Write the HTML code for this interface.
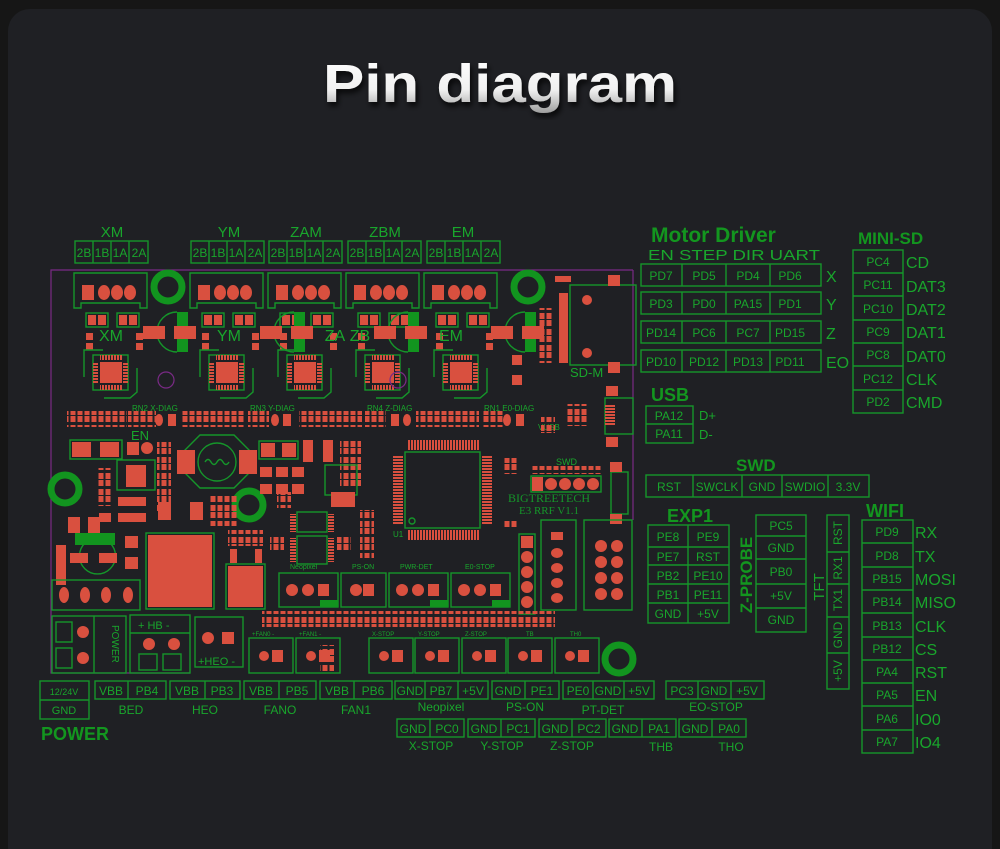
<!DOCTYPE html>
<html><head><meta charset="utf-8"><style>
html,body{margin:0;padding:0;background:#161616;}
svg{display:block;}
.g{stroke:#15962a;stroke-width:1.4;fill:none;}
.t{fill:#19a62c;font-family:"Liberation Sans",sans-serif;}
.b{fill:#13961f;font-family:"Liberation Sans",sans-serif;font-weight:bold;}
.c{font-size:12px;text-anchor:middle;}
.r{fill:#d9503f;}
.p{stroke:#7a2a86;stroke-width:1.2;fill:none;}
</style></head><body>
<svg width="1000" height="849" viewBox="0 0 1000 849" xmlns="http://www.w3.org/2000/svg">
<defs>
<linearGradient id="tg" x1="0" y1="0" x2="0" y2="1"><stop offset="0" stop-color="#ffffff"/><stop offset="0.6" stop-color="#f0f0f0"/><stop offset="1" stop-color="#9a9a9a"/></linearGradient>
<filter id="sh"><feDropShadow dx="2" dy="4" stdDeviation="3" flood-color="#000" flood-opacity="0.8"/></filter>
<pattern id="res" width="7" height="16" patternUnits="userSpaceOnUse"><rect x="0.5" y="0" width="5" height="6" fill="#d9503f"/><rect x="0.5" y="9" width="5" height="6" fill="#d9503f"/></pattern>
<pattern id="pinh" width="3" height="10" patternUnits="userSpaceOnUse"><rect x="0" y="0" width="2" height="10" fill="#d9503f"/></pattern>
<pattern id="pinv" width="10" height="3" patternUnits="userSpaceOnUse"><rect x="0" y="0" width="10" height="2" fill="#d9503f"/></pattern>
</defs>
<rect width="1000" height="849" fill="#161616"/>
<rect x="8" y="9" width="984" height="860" rx="22" fill="#1f2024"/>
<text x="500" y="102" text-anchor="middle" font-family="Liberation Sans,sans-serif" font-weight="bold" font-size="54" fill="url(#tg)" filter="url(#sh)" textLength="354" lengthAdjust="spacingAndGlyphs">Pin diagram</text>

<!-- top motor labels -->
<g class="t" font-size="15" text-anchor="middle">
<text x="112" y="237">XM</text><text x="229" y="237">YM</text><text x="306" y="237">ZAM</text><text x="385" y="237">ZBM</text><text x="463" y="237">EM</text>
</g>
<g id="mb">
<rect class="g" x="75" y="241" width="73" height="22"/><line class="g" x1="93" y1="241" x2="93" y2="263"/><line class="g" x1="111" y1="241" x2="111" y2="263"/><line class="g" x1="129" y1="241" x2="129" y2="263"/>
<g class="t c" font-size="12"><text x="84" y="257">2B</text><text x="102" y="257">1B</text><text x="120" y="257">1A</text><text x="139" y="257">2A</text></g>
</g>
<use href="#mb" x="116"/><use href="#mb" x="194"/><use href="#mb" x="273"/><use href="#mb" x="352"/>

<!-- board outline -->
<polyline class="p" points="633,270 51,270 51,673 190,673"/>
<line class="p" x1="633" y1="270" x2="633" y2="520"/>

<!-- motor connectors -->
<g id="mc">
<path class="g" d="M74,273 H147 V308 H140 V303 H81 V308 H74 Z"/>
<rect class="r" x="82" y="285" width="12" height="15"/>
<ellipse class="r" cx="104" cy="292.5" rx="6" ry="7.5"/><ellipse class="r" cx="117" cy="292.5" rx="6" ry="7.5"/><ellipse class="r" cx="130" cy="292.5" rx="6" ry="7.5"/>
<rect class="g" x="86" y="313" width="22" height="14"/><rect class="r" x="88" y="315" width="8" height="10"/><rect class="r" x="98" y="315" width="8" height="10"/>
<rect class="g" x="117" y="313" width="22" height="14"/><rect class="r" x="119" y="315" width="8" height="10"/><rect class="r" x="129" y="315" width="8" height="10"/>
<rect class="r" x="86" y="333" width="7" height="7"/><rect class="r" x="86" y="343" width="7" height="7"/>
<rect class="r" x="136" y="333" width="7" height="7"/><rect class="r" x="136" y="343" width="7" height="7"/>
<rect class="g" x="93" y="355" width="35" height="35"/>
<rect fill="url(#pinh)" x="100" y="355" width="22" height="5"/><rect fill="url(#pinh)" x="100" y="385" width="22" height="5"/>
<rect fill="url(#pinv)" x="93" y="362" width="5" height="22"/><rect fill="url(#pinv)" x="123" y="362" width="5" height="22"/>
<rect class="r" x="100" y="362" width="22" height="21"/>
<path class="g" d="M84,377 V350 H103 M137,368 V392 L130,398 H104"/>
</g>
<use href="#mc" x="116"/><use href="#mc" x="194"/><use href="#mc" x="272"/><use href="#mc" x="350"/>
<!-- override widths not needed -->
<g class="t" font-size="16" text-anchor="middle"><text x="111" y="341">XM</text><text x="229" y="341">YM</text><text x="335" y="341">ZA</text><text x="360" y="341">ZB</text><text x="451" y="341">EM</text></g>
<!-- caps -->
<g id="cap">
<path class="g" d="M177,312 A20,20 0 1 0 177,352"/>
<rect x="177" y="312" width="11" height="40" fill="#12941f"/>
<rect class="r" x="143" y="326" width="22" height="13"/><rect class="r" x="174" y="326" width="22" height="13"/>
</g>
<use href="#cap" x="117"/><use href="#cap" x="231"/><use href="#cap" x="348"/>
<!-- rings -->
<g fill="none" stroke="#12941f" stroke-width="7">
<circle cx="168" cy="287" r="14"/><circle cx="528" cy="287" r="14"/><circle cx="65" cy="489" r="14"/><circle cx="249" cy="505" r="14"/><circle cx="619" cy="659" r="14"/>
</g>
<circle class="p" cx="166" cy="380" r="8"/><circle class="p" cx="398" cy="380" r="8"/>

<!-- SD module -->
<rect class="g" x="570" y="285" width="66" height="80"/>
<rect class="r" x="559" y="293" width="9" height="70"/>
<rect class="r" x="608" y="275" width="12" height="11"/><rect class="r" x="608" y="362" width="12" height="11"/>
<circle class="r" cx="587" cy="300" r="5"/><circle class="r" cx="587" cy="353" r="5"/>
<text class="t" x="570" y="377" font-size="13">SD-M</text>
<rect fill="url(#res)" x="539" y="308" width="14" height="55"/>
<rect class="r" x="512" y="355" width="10" height="10"/><rect class="r" x="512" y="375" width="10" height="10"/>
<rect class="r" x="555" y="276" width="16" height="6"/>

<!-- resistor row -->
<rect fill="url(#res)" x="67" y="411" width="60" height="16"/><rect fill="url(#res)" x="128" y="411" width="28" height="16"/>
<rect fill="url(#res)" x="182" y="411" width="63" height="16"/><rect fill="url(#res)" x="248" y="411" width="21" height="16"/>
<rect fill="url(#res)" x="299" y="411" width="63" height="16"/><rect fill="url(#res)" x="365" y="411" width="21" height="16"/>
<rect fill="url(#res)" x="416" y="411" width="63" height="16"/><rect fill="url(#res)" x="482" y="411" width="21" height="16"/>
<g fill="#d9503f"><ellipse cx="159" cy="420" rx="4" ry="6"/><rect x="168" y="414" width="8" height="12"/><ellipse cx="275" cy="420" rx="4" ry="6"/><rect x="283" y="414" width="8" height="12"/><rect x="391" y="414" width="8" height="12"/><ellipse cx="407" cy="420" rx="4" ry="6"/><ellipse cx="507" cy="420" rx="4" ry="6"/><rect x="516" y="414" width="8" height="12"/></g>
<g class="t" font-size="8"><text x="132" y="411">RN2 X-DIAG</text><text x="250" y="411">RN3 Y-DIAG</text><text x="367" y="411">RN4 Z-DIAG</text><text x="484" y="411">RN1 E0-DIAG</text><text x="538" y="430">VUSB</text></g>
<text class="t" x="131" y="440" font-size="13">EN</text>

<!-- left components -->
<rect class="r" x="72" y="442" width="19" height="15"/><rect class="r" x="100" y="442" width="19" height="15"/><rect class="g" x="70" y="440" width="52" height="19"/>
<rect class="r" x="127" y="442" width="12" height="13"/><circle class="r" cx="147" cy="448" r="6"/>
<rect class="g" x="117" y="460" width="38" height="30"/><rect class="r" x="126" y="465" width="20" height="22"/>
<rect fill="url(#res)" x="157" y="442" width="14" height="70"/><rect fill="url(#res)" x="97" y="468" width="14" height="38"/>
<rect class="r" x="118" y="497" width="28" height="9"/><rect class="r" x="118" y="513" width="28" height="9"/>
<rect class="r" x="99" y="513" width="12" height="9"/>
<rect class="r" x="68" y="517" width="12" height="16"/><rect class="r" x="88" y="517" width="12" height="16"/>
<path class="g" d="M85,543 A18,18 0 1 0 110,543"/><rect x="75" y="533" width="40" height="12" fill="#12941f"/>
<rect class="r" x="70" y="553" width="18" height="10"/><rect class="r" x="99" y="553" width="18" height="10"/>
<rect class="r" x="125" y="536" width="13" height="12"/><rect class="r" x="125" y="557" width="13" height="12"/>
<rect class="r" x="56" y="545" width="10" height="40"/>
<rect class="g" x="52" y="580" width="88" height="30"/>
<g fill="#d9503f"><ellipse cx="64" cy="595" rx="5" ry="8"/><ellipse cx="85" cy="595" rx="5" ry="8"/><ellipse cx="106" cy="595" rx="5" ry="8"/><ellipse cx="128" cy="595" rx="5" ry="8"/></g>
<!-- inductor -->
<polygon class="g" points="200,435 234,435 252,453 252,470 234,488 200,488 182,470 182,453"/>
<circle class="g" cx="217" cy="462" r="19"/><path class="g" d="M205,462 q3,-5 6,0 q3,5 6,0 q3,-5 6,0 q3,5 6,0"/>
<rect class="r" x="177" y="450" width="18" height="24"/><rect class="r" x="239" y="450" width="18" height="24"/>
<!-- misc middle -->
<rect class="r" x="261" y="443" width="14" height="14"/><rect class="r" x="282" y="443" width="14" height="14"/><rect class="g" x="259" y="441" width="39" height="18"/>
<rect class="r" x="303" y="440" width="10" height="22"/><rect class="r" x="323" y="440" width="10" height="22"/>
<rect fill="url(#res)" x="340" y="440" width="21" height="48"/>
<rect class="r" x="260" y="467" width="12" height="10"/><rect class="r" x="276" y="467" width="12" height="10"/><rect class="r" x="292" y="467" width="12" height="10"/>
<rect class="r" x="260" y="484" width="12" height="10"/><rect class="r" x="276" y="484" width="12" height="10"/><rect class="r" x="292" y="484" width="12" height="10"/>
<rect class="g" x="325" y="465" width="32" height="30"/>
<rect class="r" x="331" y="492" width="24" height="15"/>
<rect fill="url(#res)" x="210" y="496" width="28" height="30"/><rect fill="url(#res)" x="277" y="492" width="14" height="16"/>
<rect class="r" x="158" y="502" width="13" height="18"/><rect class="r" x="190" y="502" width="13" height="18"/>
<rect class="r" x="148" y="535" width="64" height="72"/><rect class="g" x="146" y="533" width="68" height="76"/>
<rect class="r" x="228" y="566" width="35" height="41"/><rect class="g" x="226" y="564" width="39" height="45"/>
<rect class="r" x="230" y="549" width="7" height="14"/><rect class="r" x="255" y="549" width="7" height="14"/>
<rect fill="url(#res)" x="228" y="530" width="35" height="16"/>
<rect class="g" x="297" y="512" width="30" height="20"/><rect class="g" x="297" y="536" width="30" height="28"/>
<rect fill="url(#pinv)" x="290" y="514" width="6" height="18"/><rect fill="url(#pinv)" x="328" y="514" width="6" height="18"/>
<rect fill="url(#pinv)" x="290" y="538" width="6" height="24"/><rect fill="url(#pinv)" x="328" y="538" width="6" height="24"/>
<rect fill="url(#res)" x="270" y="537" width="14" height="16"/><rect fill="url(#res)" x="337" y="535" width="14" height="16"/>
<rect fill="url(#res)" x="360" y="510" width="14" height="48"/>
<!-- MCU -->
<rect class="g" x="405" y="452" width="75" height="76"/>
<rect fill="url(#pinh)" x="408" y="440" width="72" height="10"/><rect fill="url(#pinh)" x="408" y="530" width="72" height="10"/>
<rect fill="url(#pinv)" x="393" y="455" width="10" height="70"/><rect fill="url(#pinv)" x="482" y="455" width="10" height="70"/>
<circle class="g" cx="412" cy="521" r="3"/>
<text class="t" x="393" y="537" font-size="8">U1</text>
<rect fill="url(#res)" x="503" y="458" width="14" height="16"/><rect fill="url(#res)" x="503" y="520" width="14" height="8"/>
<!-- SWD header on board -->
<rect fill="url(#res)" x="532" y="466" width="70" height="8"/>
<text class="t" x="556" y="465" font-size="9">SWD</text>
<g fill="#d9503f"><rect x="532" y="477" width="11" height="14"/><circle cx="551" cy="484" r="6"/><circle cx="565" cy="484" r="6"/><circle cx="579" cy="484" r="6"/><circle cx="593" cy="484" r="6"/></g>
<rect class="g" x="531" y="476" width="70" height="16"/>
<rect class="g" x="611" y="472" width="17" height="42"/><rect class="r" x="610" y="462" width="12" height="10"/><rect class="r" x="610" y="514" width="12" height="10"/>
<text font-family="Liberation Serif,serif" fill="#15962a" x="508" y="502" font-size="12">BIGTREETECH</text>
<text font-family="Liberation Serif,serif" fill="#15962a" x="519" y="514" font-size="11">E3 RRF V1.1</text>
<!-- USB on board -->
<rect class="g" x="605" y="398" width="28" height="36"/><rect fill="url(#pinv)" x="605" y="405" width="10" height="20"/>
<rect class="r" x="606" y="386" width="12" height="10"/><rect class="r" x="606" y="437" width="12" height="10"/>
<rect fill="url(#res)" x="567" y="404" width="21" height="22"/><rect fill="url(#res)" x="541" y="417" width="14" height="16"/>
<!-- probe and exp connectors -->
<rect class="g" x="519" y="534" width="16" height="80"/>
<g fill="#d9503f"><rect x="521" y="536" width="12" height="12"/><circle cx="527" cy="557" r="6"/><circle cx="527" cy="572" r="6"/><circle cx="527" cy="587" r="6"/><circle cx="527" cy="602" r="6"/></g>
<rect class="g" x="541" y="520" width="35" height="90"/>
<g fill="#d9503f"><rect x="551" y="532" width="12" height="8"/><ellipse cx="557" cy="553" rx="6" ry="5"/><ellipse cx="557" cy="568" rx="6" ry="5"/><ellipse cx="557" cy="583" rx="6" ry="5"/><ellipse cx="557" cy="598" rx="6" ry="5"/></g>
<rect class="g" x="584" y="520" width="48" height="90"/>
<g fill="#d9503f"><circle cx="601" cy="546" r="6"/><circle cx="617" cy="546" r="6"/><circle cx="601" cy="562" r="6"/><circle cx="617" cy="562" r="6"/><circle cx="601" cy="578" r="6"/><circle cx="617" cy="578" r="6"/><circle cx="601" cy="594" r="6"/><circle cx="617" cy="594" r="6"/></g>
<!-- small connectors row -->
<g class="t" font-size="7"><text x="290" y="569">Neopixel</text><text x="352" y="569">PS-ON</text><text x="400" y="569">PWR-DET</text><text x="465" y="569">E0-STOP</text></g>
<g id="sc"><rect class="g" x="279" y="573" width="59" height="34"/><circle class="r" cx="292" cy="590" r="6"/><circle class="r" cx="308" cy="590" r="6"/><rect class="r" x="318" y="584" width="11" height="12"/><rect x="320" y="600" width="18" height="7" fill="#12941f"/></g>
<use href="#sc" x="110"/><use href="#sc" x="172"/>
<rect class="g" x="341" y="573" width="45" height="34"/><circle class="r" cx="356" cy="590" r="6"/><rect class="r" x="363" y="584" width="11" height="12"/>
<!-- bottom board -->
<rect fill="url(#res)" x="262" y="611" width="105" height="16"/><rect fill="url(#res)" x="345" y="611" width="210" height="16"/>
<rect class="g" x="52" y="616" width="74" height="57"/><line class="g" x1="94" y1="616" x2="94" y2="673"/>
<rect class="g" x="56" y="622" width="16" height="20"/><rect class="g" x="56" y="648" width="16" height="20"/>
<circle class="r" cx="83" cy="632" r="6"/><circle class="r" cx="83" cy="658" r="6"/>
<text class="t" x="0" y="0" font-size="10" transform="translate(112,625) rotate(90)">POWER</text>
<rect class="g" x="130" y="615" width="60" height="58"/><line class="g" x1="130" y1="633" x2="190" y2="633"/>
<text class="t" x="138" y="629" font-size="11">+ HB -</text>
<circle class="r" cx="149" cy="644" r="6"/><circle class="r" cx="174" cy="644" r="6"/>
<rect class="g" x="139" y="654" width="18" height="16"/><rect class="g" x="163" y="654" width="18" height="16"/>
<rect class="g" x="195" y="617" width="48" height="50"/><circle class="r" cx="208" cy="638" r="6"/><rect class="r" x="222" y="632" width="12" height="12"/>
<text class="t" x="198" y="665" font-size="11">+HEO -</text>
<g class="t" font-size="6"><text x="252" y="636">+FAN0 -</text><text x="299" y="636">+FAN1 -</text><text x="372" y="636">X-STOP</text><text x="418" y="636">Y-STOP</text><text x="465" y="636">Z-STOP</text><text x="526" y="636">TB</text><text x="570" y="636">TH0</text></g>
<g id="bc"><rect class="g" x="249" y="638" width="44" height="35"/><circle class="r" cx="264" cy="656" r="5"/><rect class="r" x="272" y="650" width="11" height="12"/></g>
<use href="#bc" x="47"/><use href="#bc" x="120"/><use href="#bc" x="166"/><use href="#bc" x="213"/><use href="#bc" x="259"/><use href="#bc" x="306"/>
<rect fill="url(#res)" x="320" y="645" width="14" height="27"/>

<!-- Motor Driver table -->
<text class="b" x="651" y="242" font-size="21">Motor Driver</text>
<text class="t" x="648" y="260" font-size="15" textLength="172" lengthAdjust="spacingAndGlyphs">EN STEP DIR UART</text>
<g class="g">
<rect x="641" y="264" width="180" height="22"/><rect x="641" y="292" width="180" height="22"/><rect x="641" y="321" width="180" height="22"/><rect x="641" y="350" width="180" height="22"/>
<path d="M682,264v22M726,264v22M770,264v22M682,292v22M726,292v22M770,292v22M682,321v22M726,321v22M770,321v22M682,350v22M726,350v22M770,350v22"/>
</g>
<g class="t c" font-size="12">
<text x="661" y="280">PD7</text><text x="704" y="280">PD5</text><text x="748" y="280">PD4</text><text x="790" y="280">PD6</text>
<text x="661" y="308">PD3</text><text x="704" y="308">PD0</text><text x="748" y="308">PA15</text><text x="790" y="308">PD1</text>
<text x="661" y="337">PD14</text><text x="704" y="337">PC6</text><text x="748" y="337">PC7</text><text x="790" y="337">PD15</text>
<text x="661" y="366">PD10</text><text x="704" y="366">PD12</text><text x="748" y="366">PD13</text><text x="790" y="366">PD11</text>
</g>
<g class="t" font-size="16"><text x="826" y="282">X</text><text x="826" y="310">Y</text><text x="826" y="339">Z</text><text x="826" y="368">EO</text></g>

<!-- MINI-SD -->
<text class="b" x="858" y="244" font-size="17">MINI-SD</text>
<g class="g"><rect x="853" y="250" width="50" height="163"/><path d="M853,273H903M853,296H903M853,320H903M853,343H903M853,366H903M853,390H903"/></g>
<g class="t c" font-size="12"><text x="878" y="266">PC4</text><text x="878" y="289">PC11</text><text x="878" y="313">PC10</text><text x="878" y="336">PC9</text><text x="878" y="359">PC8</text><text x="878" y="383">PC12</text><text x="878" y="406">PD2</text></g>
<g class="t" font-size="16"><text x="906" y="268">CD</text><text x="906" y="292">DAT3</text><text x="906" y="315">DAT2</text><text x="906" y="338">DAT1</text><text x="906" y="362">DAT0</text><text x="906" y="385">CLK</text><text x="906" y="408">CMD</text></g>

<!-- USB -->
<text class="b" x="651" y="401" font-size="18">USB</text>
<g class="g"><rect x="646" y="406" width="47" height="37"/><line x1="646" y1="424" x2="693" y2="424"/></g>
<g class="t c" font-size="12"><text x="669" y="420">PA12</text><text x="669" y="438">PA11</text></g>
<g class="t" font-size="13"><text x="699" y="420">D+</text><text x="699" y="439">D-</text></g>

<!-- SWD -->
<text class="b" x="736" y="471" font-size="17">SWD</text>
<g class="g"><rect x="646" y="475" width="223" height="22"/><path d="M693,475v22M742,475v22M782,475v22M828,475v22"/></g>
<g class="t c" font-size="12"><text x="669" y="491">RST</text><text x="717" y="491">SWCLK</text><text x="762" y="491">GND</text><text x="805" y="491">SWDIO</text><text x="848" y="491">3.3V</text></g>

<!-- EXP1 -->
<text class="b" x="667" y="522" font-size="18">EXP1</text>
<g class="g"><rect x="648" y="525" width="81" height="98"/><path d="M688,525v98M648,547H729M648,565H729M648,584H729M648,603H729"/></g>
<g class="t c" font-size="12">
<text x="668" y="541">PE8</text><text x="708" y="541">PE9</text>
<text x="668" y="561">PE7</text><text x="708" y="561">RST</text>
<text x="668" y="580">PB2</text><text x="708" y="580">PE10</text>
<text x="668" y="599">PB1</text><text x="708" y="599">PE11</text>
<text x="668" y="618">GND</text><text x="708" y="618">+5V</text></g>

<!-- Z-PROBE -->
<text class="b" font-size="17" text-anchor="middle" transform="translate(752,575) rotate(-90)">Z-PROBE</text>
<g class="g"><rect x="756" y="515" width="50" height="117"/><path d="M756,536H806M756,559H806M756,584H806M756,608H806"/></g>
<g class="t c" font-size="12"><text x="781" y="530">PC5</text><text x="781" y="552">GND</text><text x="781" y="576">PB0</text><text x="781" y="600">+5V</text><text x="781" y="624">GND</text></g>

<!-- TFT -->
<text class="t" font-size="15" text-anchor="middle" transform="translate(824,587) rotate(-90)">TFT</text>
<g class="g"><rect x="827" y="515" width="22" height="174"/><path d="M827,552H849M827,584H849M827,617H849M827,653H849"/></g>
<g class="t" font-size="12" text-anchor="middle">
<text transform="translate(842,533) rotate(-90)">RST</text><text transform="translate(842,568) rotate(-90)">RX1</text><text transform="translate(842,600) rotate(-90)">TX1</text><text transform="translate(842,635) rotate(-90)">GND</text><text transform="translate(842,671) rotate(-90)">+5V</text></g>

<!-- WIFI -->
<text class="b" x="866" y="517" font-size="18">WIFI</text>
<g class="g"><rect x="862" y="520" width="51" height="233"/><path d="M862,543H913M862,567H913M862,590H913M862,613H913M862,637H913M862,660H913M862,683H913M862,706H913M862,730H913"/></g>
<g class="t c" font-size="12"><text x="887" y="536">PD9</text><text x="887" y="560">PD8</text><text x="887" y="583">PB15</text><text x="887" y="606">PB14</text><text x="887" y="630">PB13</text><text x="887" y="653">PB12</text><text x="887" y="676">PA4</text><text x="887" y="699">PA5</text><text x="887" y="723">PA6</text><text x="887" y="746">PA7</text></g>
<g class="t" font-size="16"><text x="915" y="538">RX</text><text x="915" y="562">TX</text><text x="915" y="585">MOSI</text><text x="915" y="608">MISO</text><text x="915" y="632">CLK</text><text x="915" y="655">CS</text><text x="915" y="678">RST</text><text x="915" y="701">EN</text><text x="915" y="725">IO0</text><text x="915" y="748">IO4</text></g>

<!-- bottom labels -->
<g class="g"><rect x="40" y="681" width="49" height="38"/><line x1="40" y1="700" x2="89" y2="700"/></g>
<g class="t c"><text x="64" y="695" font-size="9">12/24V</text><text x="64" y="714" font-size="11">GND</text></g>
<text class="b" x="41" y="740" font-size="18">POWER</text>
<g class="g">
<rect x="95" y="681" width="71" height="18"/><line x1="128" y1="681" x2="128" y2="699"/>
<rect x="170" y="681" width="70" height="18"/><line x1="205" y1="681" x2="205" y2="699"/>
<rect x="244" y="681" width="72" height="18"/><line x1="279" y1="681" x2="279" y2="699"/>
<rect x="320" y="681" width="72" height="18"/><line x1="354" y1="681" x2="354" y2="699"/>
<rect x="395" y="681" width="93" height="18"/><path d="M425,681v18M458,681v18"/>
<rect x="492" y="681" width="67" height="18"/><line x1="525" y1="681" x2="525" y2="699"/>
<rect x="563" y="681" width="91" height="18"/><path d="M593,681v18M624,681v18"/>
<rect x="666" y="681" width="98" height="18"/><path d="M698,681v18M731,681v18"/>
<rect x="397" y="719" width="67" height="18"/><line x1="430" y1="719" x2="430" y2="737"/>
<rect x="468" y="719" width="67" height="18"/><line x1="501" y1="719" x2="501" y2="737"/>
<rect x="539" y="719" width="67" height="18"/><line x1="572" y1="719" x2="572" y2="737"/>
<rect x="609" y="719" width="67" height="18"/><line x1="642" y1="719" x2="642" y2="737"/>
<rect x="679" y="719" width="67" height="18"/><line x1="712" y1="719" x2="712" y2="737"/>
</g>
<g class="t c" font-size="12">
<text x="111" y="695">VBB</text><text x="147" y="695">PB4</text>
<text x="187" y="695">VBB</text><text x="222" y="695">PB3</text>
<text x="261" y="695">VBB</text><text x="297" y="695">PB5</text>
<text x="337" y="695">VBB</text><text x="373" y="695">PB6</text>
<text x="410" y="695">GND</text><text x="441" y="695">PB7</text><text x="473" y="695">+5V</text>
<text x="508" y="695">GND</text><text x="542" y="695">PE1</text>
<text x="578" y="695">PE0</text><text x="608" y="695">GND</text><text x="639" y="695">+5V</text>
<text x="682" y="695">PC3</text><text x="714" y="695">GND</text><text x="747" y="695">+5V</text>
<text x="413" y="733">GND</text><text x="447" y="733">PC0</text>
<text x="484" y="733">GND</text><text x="518" y="733">PC1</text>
<text x="555" y="733">GND</text><text x="589" y="733">PC2</text>
<text x="625" y="733">GND</text><text x="659" y="733">PA1</text>
<text x="695" y="733">GND</text><text x="729" y="733">PA0</text>
</g>
<g class="t c" font-size="16">
<text x="131" y="714">BED</text><text x="205" y="714">HEO</text><text x="280" y="714">FANO</text><text x="356" y="714">FAN1</text>
<text x="603" y="714">PT-DET</text><text x="661" y="751">THB</text><text x="731" y="751">THO</text>
</g>
<g class="t c" font-size="12">
<text x="441" y="711">Neopixel</text><text x="525" y="711">PS-ON</text><text x="716" y="711">EO-STOP</text>
<text x="431" y="750">X-STOP</text><text x="502" y="750">Y-STOP</text><text x="572" y="750">Z-STOP</text>
</g>
</svg>
</body></html>
